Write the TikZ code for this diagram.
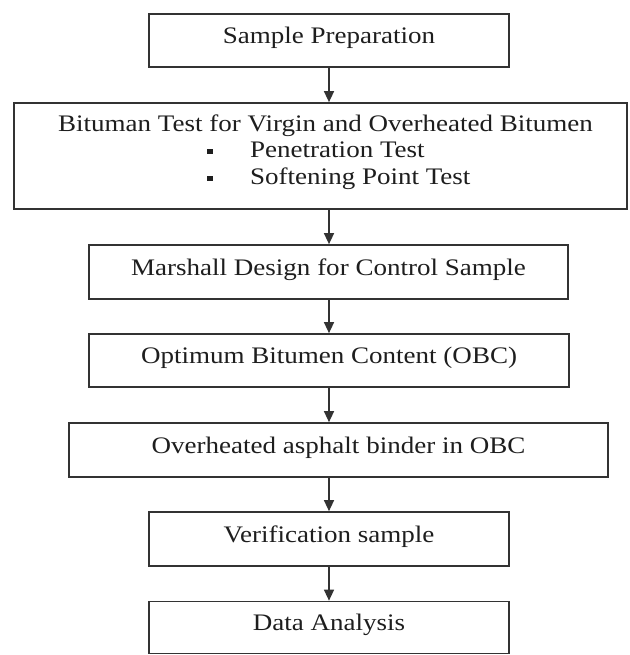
\documentclass[tikz,border=0pt]{standalone}
\usepackage{fontspec}
\setmainfont{Liberation Serif}[FakeStretch=1.14]
\usetikzlibrary{arrows.meta}
\definecolor{inkc}{HTML}{1E1E1E}
\definecolor{linec}{HTML}{333333}
\newcommand\bulmark{\makebox[43pt][l]{\rule[4pt]{5.5pt}{5.5pt}}}
\tikzset{
  stepbox/.style={draw=linec, line width=1.7pt, inner sep=0pt, text=inkc,
    text height=11pt, text depth=5pt, font=\fontsize{23.7}{27}\selectfont},
  txt/.style={inner sep=0pt, text=inkc, font=\fontsize{23.7}{27}\selectfont},
  flowarrow/.style={draw=linec, line width=1.4pt, -{Triangle[width=10pt,length=11pt]}}
}
\begin{document}
\begin{tikzpicture}[x=1pt,y=-1pt]
\useasboundingbox (0,0) rectangle (629,655);
\fill[white] (0,0) rectangle (629,655);
\coordinate (axis) at (329,0);
\node[stepbox, minimum width=360pt, minimum height=53pt] (b1) at (329,40.5) {Sample Preparation};
\node[stepbox, minimum width=613pt, minimum height=106pt] (b2) at (320.5,156) {};
\node[txt, anchor=base] (t2) at (325.5,132) {Bituman Test for Virgin and Overheated Bitumen};
\node[txt, anchor=base west] (t2a) at (207,158) {\bulmark Penetration Test};
\node[txt, anchor=base west] (t2b) at (207,185) {\bulmark Softening Point Test};
\node[stepbox, minimum width=479pt, minimum height=54pt] (b3) at (328.5,272) {Marshall Design for Control Sample};
\node[stepbox, minimum width=480pt, minimum height=53pt] (b4) at (329,360.5) {Optimum Bitumen Content (OBC)};
\node[stepbox, minimum width=539pt, minimum height=54pt] (b5) at (338.5,450) {Overheated asphalt binder in OBC};
\node[stepbox, minimum width=360pt, minimum height=54pt] (b6) at (329,539) {Verification sample};
\node[stepbox, minimum width=360pt, minimum height=52pt] (b7) at (329,627.5) {Data Analysis};
\draw[flowarrow] (b1.south -| axis) -- (b2.north -| axis);
\draw[flowarrow] (b2.south -| axis) -- (b3.north -| axis);
\draw[flowarrow] (b3.south -| axis) -- (b4.north -| axis);
\draw[flowarrow] (b4.south -| axis) -- (b5.north -| axis);
\draw[flowarrow] (b5.south -| axis) -- (b6.north -| axis);
\draw[flowarrow] (b6.south -| axis) -- (b7.north -| axis);
\end{tikzpicture}
\end{document}
